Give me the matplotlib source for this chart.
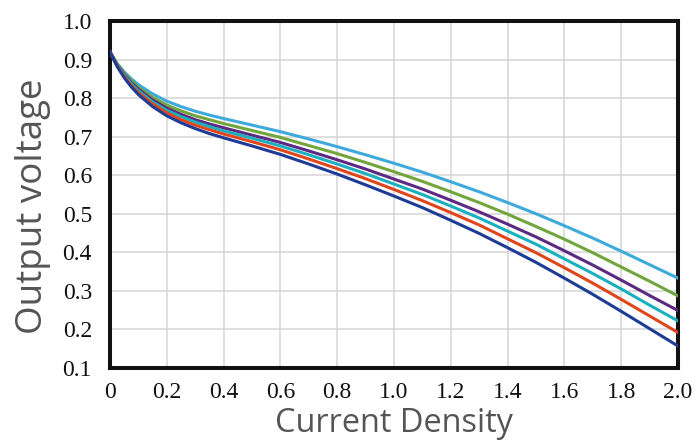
import numpy as np
from matplotlib import pyplot as plt, ticker

# current density (x) and output voltage curves
current = [0, 0.025, 0.05, 0.075, 0.1, 0.15, 0.2, 0.25, 0.3, 0.35, 0.4,
           0.5, 0.6, 0.7, 0.8, 0.9, 1.0, 1.1, 1.2, 1.3, 1.4, 1.5, 1.6,
           1.7, 1.8, 1.9, 2.0]

v_lightblue = [.920, .890, .868, .850, .835, .811, .792, .778, .766, .756, .747,
               .730, .713, .694, .674, .653, .631, .608, .583, .557, .529, .500,
               .469, .437, .403, .368, .333]
v_green = [.920, .888, .864, .845, .828, .802, .782, .767, .754, .744, .734,
           .716, .698, .677, .656, .633, .609, .584, .557, .529, .499, .467,
           .434, .399, .362, .325, .287]
v_purple = [.920, .886, .861, .840, .823, .795, .774, .758, .744, .733, .723,
            .704, .685, .663, .640, .616, .590, .564, .535, .505, .473, .440,
            .404, .367, .328, .288, .249]
v_teal = [.920, .885, .859, .837, .819, .790, .768, .752, .738, .726, .715,
          .696, .676, .653, .629, .604, .577, .550, .520, .489, .455, .421,
          .383, .345, .305, .263, .222]
v_orange = [.920, .884, .856, .833, .814, .785, .762, .744, .730, .718, .707,
            .687, .666, .642, .617, .591, .563, .534, .503, .471, .435, .399,
            .360, .320, .278, .235, .192]
v_darkblue = [.920, .882, .853, .829, .809, .778, .754, .736, .721, .708, .697,
              .676, .654, .629, .603, .575, .546, .516, .483, .449, .412, .374,
              .333, .291, .247, .202, .157]

x_ticks = [0, 0.2, 0.4, 0.6, 0.8, 1.0, 1.2, 1.4, 1.6, 1.8, 2.0]
x_labels = ['0', '0.2', '0.4', '0.6', '0.8', '1.0', '1.2', '1.4', '1.6', '1.8', '2.0']
y_ticks = [0.1, 0.2, 0.3, 0.4, 0.5, 0.6, 0.7, 0.8, 0.9, 1.0]

series = [(v_lightblue, '#3eaadc'), (v_green, '#72a53c'), (v_purple, '#5c2a82'),
          (v_teal, '#1bb0c0'), (v_orange, '#e0461b'), (v_darkblue, '#1e3b95')]

fig = plt.figure(figsize=(6.97, 4.43), dpi=100)
ax = fig.add_axes((110/697, 1 - 368/443, 568/697, 347/443))

for vals, col in series:
    ax.plot(current, vals, c=col, lw=2.2, solid_joinstyle='round', zorder=3)

ax.set_xlim(0, 2.0)
ax.set_ylim(0.1, 1.0)
ax.set_xticks(x_ticks)
ax.set_xticklabels(x_labels)
ax.set_yticks(y_ticks)
ax.set_yticklabels(['{:.1f}'.format(v) for v in y_ticks])
ax.tick_params(length=0, labelsize=17, colors='#111111')
ax.tick_params(axis='x', pad=10)
ax.tick_params(axis='y', pad=13)
for lbl in ax.get_xticklabels() + ax.get_yticklabels():
    lbl.set_family('Liberation Serif')

ax.grid(color='#d4d4d4', lw=1.1, zorder=0)
for sp in ax.spines.values():
    sp.set_linewidth(2.9)
    sp.set_color('#111111')

ax.set_xlabel('Current Density', family='Open Sans', fontsize=23.4,
              color='#555555')
ax.set_ylabel('Output voltage', family='Open Sans', fontsize=26.5,
              color='#555555')
ax.xaxis.set_label_coords(0.5, -0.112)
ax.yaxis.set_label_coords(-0.103, 0.465)

plt.savefig('out.png', dpi=100)
